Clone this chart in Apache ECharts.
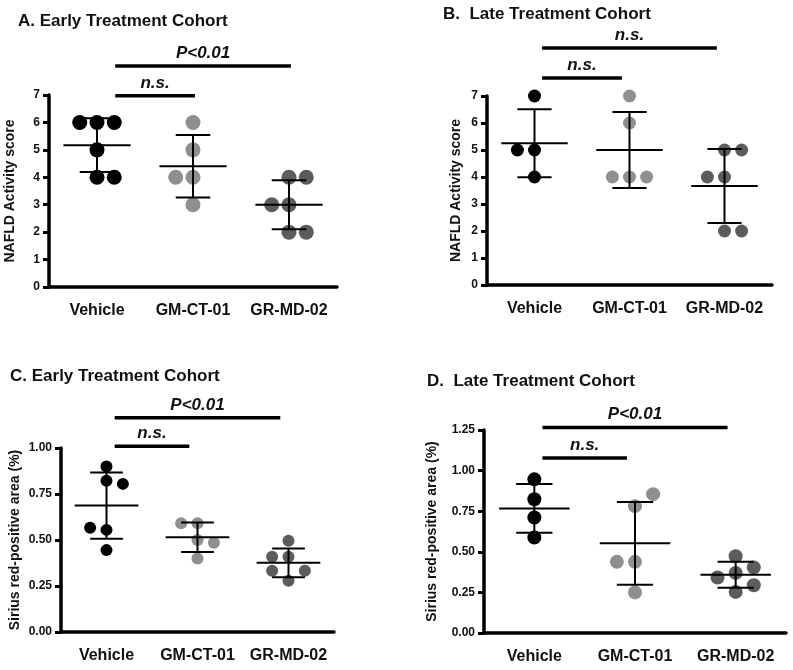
<!DOCTYPE html>
<html>
<head>
<meta charset="utf-8">
<script src="https://cdn.jsdelivr.net/npm/echarts@6/dist/echarts.min.js"></script>
<style>
  html, body { margin: 0; background: #fff; }
  #chart { width: 793px; height: 670px; }
</style>
</head>
<body>
<div id="chart"></div>
<script>
const groups = ['Vehicle', 'GM-CT-01', 'GR-MD-02']
const colors = ['#000000', '#8f8f8f', '#5c5c5c']

// A. NAFLD activity score, early cohort
const aVehicle = [6, 6, 6, 5, 4, 4]
const aGmct = [6, 5, 4, 4, 3]
const aGrmd = [4, 4, 3, 3, 2, 2]
const aMean = [5.17, 4.4, 3.0]
const aSd = [0.98, 1.14, 0.89]

// B. NAFLD activity score, late cohort
const bVehicle = [7, 5, 5, 4]
const bGmct = [7, 6, 4, 4, 4]
const bGrmd = [5, 5, 4, 4, 2, 2]
const bMean = [5.25, 5.0, 3.67]
const bSd = [1.26, 1.41, 1.37]

// C. Sirius red area, early cohort
const cVehicle = [0.555, 0.567, 0.9, 0.822, 0.805, 0.445]
const cGmct = [0.591, 0.591, 0.5, 0.485, 0.4]
const cGrmd = [0.496, 0.409, 0.409, 0.278, 0.333, 0.333]
const cMean = [0.687, 0.515, 0.376]
const cSd = [0.18, 0.08, 0.078]

// D. Sirius red area, late cohort
const dVehicle = [0.946, 0.824, 0.711, 0.588]
const dGmct = [0.781, 0.855, 0.438, 0.438, 0.25]
const dGrmd = [0.37, 0.294, 0.342, 0.253, 0.404, 0.473]
const dMean = [0.767, 0.552, 0.358]
const dSd = [0.15, 0.255, 0.08]

// comparison bars: [from group, to group, level, label]
const aSig = [[0, 2, 8.06, 'P<0.01'], [0, 1, 6.97, 'n.s.']]
const bSig = [[0, 2, 8.78, 'n.s.'], [0, 1, 7.67, 'n.s.']]
const cSig = [[0, 2, 1.164, 'P<0.01'], [0, 1, 1.009, 'n.s.']]
const dSig = [[0, 2, 1.265, 'P<0.01'], [0, 1, 1.077, 'n.s.']]

// y axis [min, max, step]
const aTicks = [0, 7, 1]
const bTicks = [0, 7, 1]
const cTicks = [0, 1, 0.25]
const dTicks = [0, 1.25, 0.25]

const FONT = '"Liberation Sans", Arial, sans-serif'

const panels = [
  {
    title: 'A. Early Treatment Cohort', tl: 18, tt: 13,
    grid: { left: 49, top: 95, width: 288, height: 192 },
    ticks: aTicks, digits: 0, yName: 'NAFLD Activity score', nameGap: 32,
    dot: 15, sets: [aVehicle, aGmct, aGrmd], mean: aMean, sd: aSd,
    sig: aSig, sigStart: 0.19, sigEnd: 0.02,
  },
  {
    title: 'B.  Late Treatment Cohort', tl: 443, tt: 6,
    grid: { left: 487, top: 96, width: 285, height: 189 },
    ticks: bTicks, digits: 0, yName: 'NAFLD Activity score', nameGap: 24,
    dot: 13, sets: [bVehicle, bGmct, bGrmd], mean: bMean, sd: bSd,
    sig: bSig, sigStart: 0.08, sigEnd: -0.08,
  },
  {
    title: 'C. Early Treatment Cohort', tl: 10, tt: 368,
    grid: { left: 61, top: 448, width: 273, height: 184 },
    ticks: cTicks, digits: 2, yName: 'Sirius red-positive area (%)', nameGap: 39,
    dot: 12, sets: [cVehicle, cGmct, cGrmd], mean: cMean, sd: cSd,
    sig: cSig, sigStart: 0.09, sigEnd: -0.09,
  },
  {
    title: 'D.  Late Treatment Cohort', tl: 427, tt: 373,
    grid: { left: 484, top: 430, width: 302, height: 203 },
    ticks: dTicks, digits: 2, yName: 'Sirius red-positive area (%)', nameGap: 45,
    dot: 14, sets: [dVehicle, dGmct, dGrmd], mean: dMean, sd: dSd,
    sig: dSig, sigStart: 0.08, sigEnd: -0.08,
  },
]

// spread overlapping dots sideways, alternating the side like a column scatter
const STEP = 0.18
let side = 1
function swarm(values, gi, tol) {
  const placed = []
  return values.map((v) => {
    const order = [0, side, -side, 2 * side, -2 * side]
    let slot = order.find((s) => !placed.some((p) => p.s === s && Math.abs(p.v - v) < tol))
    if (slot === undefined) slot = 0
    if (slot !== 0) side = slot > 0 ? -1 : 1
    placed.push({ v, s: slot })
    return [gi + slot * STEP, v]
  })
}

const option = {
  animation: false,
  backgroundColor: '#fff',
  title: [],
  grid: [],
  xAxis: [],
  yAxis: [],
  series: [],
}

panels.forEach((p, k) => {
  option.title.push({
    text: p.title, left: p.tl, top: p.tt, padding: 0,
    textStyle: { fontFamily: FONT, fontSize: 17, fontWeight: 'bold', color: '#111' },
  })
  option.grid.push(p.grid)

  const line = { color: '#000', width: 3.5 }
  // visible category axis
  option.xAxis.push({
    type: 'category', gridIndex: k, data: groups,
    axisLine: { show: true, onZero: false, lineStyle: line },
    axisTick: { alignWithLabel: true, length: 7, lineStyle: { width: 3, color: '#000' } },
    axisLabel: { interval: 0, margin: 16, fontFamily: FONT, fontSize: 16, fontWeight: 'bold', color: '#111' },
    splitLine: { show: false },
  })
  // hidden numeric axis for dot positions
  option.xAxis.push({ type: 'value', gridIndex: k, min: -0.5, max: 2.5, show: false })
  option.yAxis.push({
    type: 'value', gridIndex: k, min: p.ticks[0], max: p.ticks[1], interval: p.ticks[2],
    name: p.yName, nameLocation: 'middle', nameRotate: 90, nameGap: p.nameGap,
    nameTextStyle: { fontFamily: FONT, fontSize: 14, fontWeight: 'bold', color: '#111' },
    axisLine: { show: true, onZero: false, lineStyle: line },
    axisTick: { show: true, length: 6, lineStyle: { width: 3, color: '#000' } },
    axisLabel: {
      margin: 9, fontFamily: FONT, fontSize: 12, fontWeight: 'bold', color: '#111',
      formatter: (v) => v.toFixed(p.digits),
    },
    splitLine: { show: false },
  })

  const xi = k * 2 + 1
  const tol = (p.dot * 1.08 * (p.ticks[1] - p.ticks[0])) / p.grid.height
  p.sets.forEach((vals, gi) => {
    option.series.push({
      type: 'scatter', xAxisIndex: xi, yAxisIndex: k, z: 2,
      symbolSize: p.dot, itemStyle: { color: colors[gi], opacity: 1 },
      data: swarm(vals, gi, tol),
    })
  })

  // mean with SD whiskers
  option.series.push({
    type: 'custom', xAxisIndex: xi, yAxisIndex: k, z: 3, clip: false,
    data: groups.map((g, i) => [i, p.mean[i], p.sd[i]]),
    renderItem(params, api) {
      const x = api.value(0), m = api.value(1), s = api.value(2)
      const pt = (dx, y) => api.coord([x + dx, y])
      const style = { stroke: '#000', lineWidth: 2 }
      const seg = (a, b) => ({ type: 'line', shape: { x1: a[0], y1: a[1], x2: b[0], y2: b[1] }, style })
      return {
        type: 'group',
        children: [
          seg(pt(-0.35, m), pt(0.35, m)),
          seg(pt(0, m - s), pt(0, m + s)),
          seg(pt(-0.18, m + s), pt(0.18, m + s)),
          seg(pt(-0.18, m - s), pt(0.18, m - s)),
        ],
      }
    },
  })

  // comparison bars above the plot
  option.series.push({
    type: 'custom', xAxisIndex: xi, yAxisIndex: k, z: 3, clip: false,
    data: p.sig.map((r) => [r[0], r[1], r[2]]),
    renderItem(params, api) {
      const row = p.sig[params.dataIndex]
      const a = api.coord([row[0] + p.sigStart, row[2]])
      const b = api.coord([row[1] + p.sigEnd, row[2]])
      return {
        type: 'group',
        children: [
          { type: 'line', shape: { x1: a[0], y1: a[1], x2: b[0], y2: b[1] }, style: { stroke: '#000', lineWidth: 3.5 } },
          {
            type: 'text',
            style: {
              text: row[3], x: (a[0] + b[0]) / 2, y: a[1] - 13, align: 'center', verticalAlign: 'middle',
              fontFamily: FONT, fontSize: 17, fontWeight: 'bold', fontStyle: 'italic', fill: '#111',
            },
          },
        ],
      }
    },
  })
})

const chart = echarts.init(document.getElementById('chart'))
chart.setOption(option)
</script>
</body>
</html>
